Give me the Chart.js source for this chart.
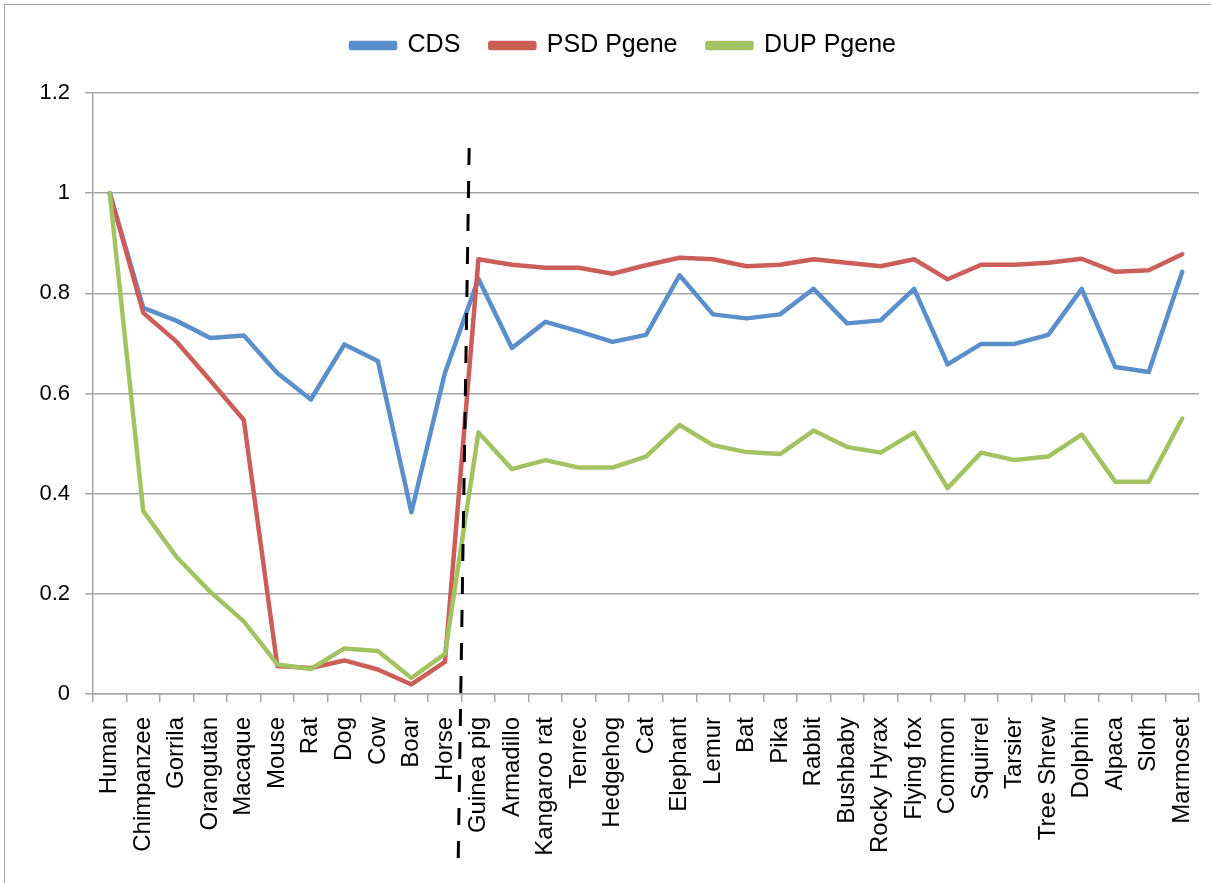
<!DOCTYPE html>
<html>
<head>
<meta charset="utf-8">
<title>CDS / PSD / DUP Pgene</title>
<script src="https://cdn.jsdelivr.net/npm/chart.js@4.4.1/dist/chart.umd.min.js"></script>
<style>
  html, body { margin: 0; padding: 0; background: #fff; overflow: hidden; }
  #wrap { position: relative; width: 1211px; height: 883px; }
  #frame { position: absolute; left: 4px; top: 4px; width: 1300px; height: 1000px;
           border-left: 1.5px solid #a6a6a6; border-top: 1.5px solid #a6a6a6; pointer-events: none; }
</style>
</head>
<body>
<div id="wrap">
  <canvas id="chart"></canvas>
  <div id="frame"></div>
</div>
<script>
// ========== DADOS ==========
const species = [
  'Human', 'Chimpanzee', 'Gorrila', 'Orangutan', 'Macaque', 'Mouse', 'Rat', 'Dog', 'Cow', 'Boar', 'Horse',
  'Guinea pig', 'Armadillo', 'Kangaroo rat', 'Tenrec', 'Hedgehog', 'Cat', 'Elephant', 'Lemur', 'Bat', 'Pika',
  'Rabbit', 'Bushbaby', 'Rocky Hyrax', 'Flying fox', 'Common', 'Squirrel', 'Tarsier', 'Tree Shrew', 'Dolphin',
  'Alpaca', 'Sloth', 'Marmoset'
];

const cds = [
  1.0, 0.771, 0.745, 0.711, 0.716, 0.641, 0.588, 0.698, 0.665, 0.363, 0.641,
  0.829, 0.691, 0.743, 0.724, 0.703, 0.717, 0.836, 0.758, 0.750, 0.758,
  0.809, 0.740, 0.746, 0.809, 0.658, 0.699, 0.699, 0.717, 0.809,
  0.653, 0.643, 0.843
];

const psdPgene = [
  1.0, 0.761, 0.703, 0.626, 0.547, 0.056, 0.052, 0.067, 0.049, 0.019, 0.064,
  0.868, 0.857, 0.851, 0.851, 0.839, 0.856, 0.871, 0.868, 0.854, 0.857,
  0.868, 0.861, 0.854, 0.868, 0.828, 0.857, 0.857, 0.861, 0.869,
  0.843, 0.846, 0.878
];

const dupPgene = [
  1.0, 0.365, 0.273, 0.204, 0.145, 0.059, 0.050, 0.091, 0.086, 0.032, 0.080,
  0.522, 0.449, 0.467, 0.452, 0.452, 0.474, 0.537, 0.497, 0.483, 0.479,
  0.526, 0.493, 0.482, 0.522, 0.411, 0.482, 0.467, 0.474, 0.518,
  0.424, 0.424, 0.550
];

const yMin = 0;
const yMax = 1.2;
const yStep = 0.2;

// separação entre Horse e Guinea pig
const splitAfter = 'Horse';

const FONT = "'Liberation Sans', Arial, sans-serif";
const GRID = '#a6a6a6';

// espaço extra abaixo da legenda + deslocamento horizontal
const legendMargin = {
  id: 'legendMargin',
  beforeInit(chart) {
    const fitOrig = chart.legend.fit;
    chart.legend.fit = function fit() {
      fitOrig.bind(chart.legend)();
      this.height += 25;
    };
  },
  afterLayout(chart) {
    chart.legend.left += 24;
    chart.legend.right += 24;
  }
};

// linha tracejada vertical
const splitLine = {
  id: 'splitLine',
  afterDatasetsDraw(chart) {
    const x = chart.scales.x;
    const y = chart.scales.y;
    const i = species.indexOf(splitAfter);
    const boundary = (x.getPixelForValue(i) + x.getPixelForValue(i + 1)) / 2;
    const area = chart.chartArea;
    const ctx = chart.ctx;
    ctx.save();
    ctx.strokeStyle = '#000';
    ctx.lineWidth = 3;
    ctx.setLineDash([17, 16]);
    ctx.beginPath();
    ctx.moveTo(boundary + 7.5, y.getPixelForValue(1.09));
    ctx.lineTo(boundary - 3.5, area.bottom + 168);
    ctx.stroke();
    ctx.restore();
  }
};

const ctx = document.getElementById('chart').getContext('2d');
new Chart(ctx, {
  type: 'line',
  data: {
    labels: species,
    datasets: [
      { label: 'CDS', data: cds, borderColor: '#5A8FCB', backgroundColor: '#5A8FCB', order: 3 },
      { label: 'PSD Pgene', data: psdPgene, borderColor: '#CC5E59', backgroundColor: '#CC5E59', order: 2 },
      { label: 'DUP Pgene', data: dupPgene, borderColor: '#A3C362', backgroundColor: '#A3C362', order: 1 }
    ]
  },
  options: {
    responsive: true,
    maintainAspectRatio: false,
    animation: false,
    layout: { padding: { top: 3, right: 12, left: 0, bottom: 0 } },
    elements: {
      line: { borderWidth: 4.5, tension: 0, borderCapStyle: 'round', borderJoinStyle: 'round', fill: false },
      point: { radius: 0, hoverRadius: 0 }
    },
    plugins: {
      legend: {
        position: 'top',
        labels: {
          font: { family: FONT, size: 25 },
          color: '#000',
          boxWidth: 44,
          boxHeight: 5,
          padding: 30,
          sort: (a, b) => a.datasetIndex - b.datasetIndex
        }
      },
      tooltip: { enabled: false }
    },
    scales: {
      x: {
        offset: true,
        grid: { display: true, drawOnChartArea: false, drawTicks: true, tickLength: 8, offset: true, color: GRID, lineWidth: 1.5 },
        border: { display: true, color: GRID, width: 1.5 },
        ticks: {
          autoSkip: false,
          minRotation: 90,
          maxRotation: 90,
          padding: 15,
          color: '#000',
          font: { family: FONT, size: 24 }
        },
        afterFit(scale) {
          scale.height = 189;
          scale.paddingLeft = 0;
          scale.paddingRight = 0;
        }
      },
      y: {
        min: yMin,
        max: yMax,
        grid: { color: GRID, lineWidth: 1.5, tickLength: 8 },
        border: { display: true, color: GRID, width: 1.5 },
        ticks: {
          stepSize: yStep,
          padding: 15,
          color: '#000',
          font: { family: FONT, size: 22 },
          callback: function (value) {
            return String(Number(value.toFixed(1)));
          }
        },
        afterFit(scale) { scale.width = 93; }
      }
    }
  },
  plugins: [legendMargin, splitLine]
});
</script>
</body>
</html>
